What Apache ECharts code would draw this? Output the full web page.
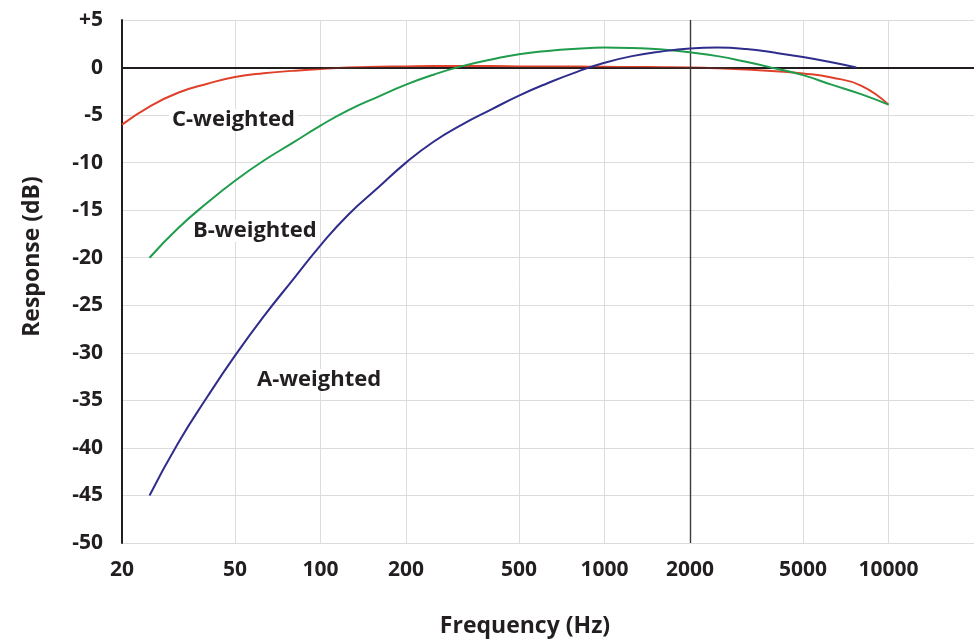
<!DOCTYPE html>
<html>
<head>
<meta charset="utf-8">
<script src="https://cdn.jsdelivr.net/npm/echarts@6/dist/echarts.min.js"></script>
<style>html,body{margin:0;padding:0;background:#fff}#c{width:974px;height:644px}</style>
</head>
<body>
<div id="c"></div>
<script>
// ---- data ----
var xTicks = [20, 50, 100, 200, 500, 1000, 2000, 5000, 10000];

var freqC = [20, 25, 31.5, 40, 50, 63, 80, 100, 125, 160, 200, 250, 315, 400, 500, 630, 800, 1000, 1250, 1600, 2000, 2500, 3150, 4000, 5000, 6300, 8000, 10000];
var cWeighted = [-6.0, -4.1, -2.65, -1.7, -1.0, -0.6, -0.35, -0.15, 0, 0.08, 0.12, 0.15, 0.15, 0.15, 0.12, 0.1, 0.1, 0.08, 0.06, 0.04, 0, -0.08, -0.2, -0.38, -0.62, -1.05, -1.9, -3.9];

var freqB = [25, 31.5, 40, 50, 63, 80, 100, 125, 160, 200, 250, 315, 400, 500, 630, 800, 1000, 1250, 1600, 2000, 2500, 3150, 4000, 5000, 6300, 8000, 10000];
var bWeighted = [-20, -16.9, -14.2, -11.9, -9.8, -7.9, -6.1, -4.5, -3.05, -1.8, -0.75, 0.15, 0.85, 1.4, 1.75, 1.98, 2.1, 2.05, 1.9, 1.6, 1.2, 0.6, -0.1, -0.8, -1.8, -2.8, -3.9];

var freqA = [25, 31.5, 40, 50, 63, 80, 100, 125, 160, 200, 250, 315, 400, 500, 630, 800, 1000, 1250, 1600, 2000, 2500, 3150, 4000, 5000, 6300, 7700];
var aWeighted = [-45, -39.5, -34.6, -30.3, -26.2, -22.3, -18.7, -15.5, -12.6, -10.0, -7.8, -6.0, -4.4, -2.95, -1.65, -0.45, 0.5, 1.2, 1.7, 2.0, 2.1, 1.95, 1.55, 1.1, 0.55, 0];

var seriesNames = ['C-weighted', 'B-weighted', 'A-weighted'];

function zip(xs, ys) { return xs.map(function (x, i) { return [x, ys[i]]; }); }

var FONT = '"Open Sans", "Noto Sans", sans-serif';
var TXT = '#231f20';

function label(text, x, y) {
  return {
    type: 'text', x: x, y: y, z: 1,
    style: {
      text: text, fontFamily: FONT, fontSize: 22, fontWeight: 'bold', fill: TXT,
      verticalAlign: 'middle', backgroundColor: '#ffffff', padding: [0, 3]
    }
  };
}

var chart = echarts.init(document.getElementById('c'), null, { renderer: 'canvas' });
chart.setOption({
  animation: false,
  backgroundColor: '#ffffff',
  grid: { left: 122, right: 0, top: 20, bottom: 101, containLabel: false, outerBoundsMode: 'none' },
  xAxis: {
    type: 'log', logBase: 10, min: 20, max: 20000,
    name: 'Frequency (Hz)', nameLocation: 'middle', nameGap: 72,
    nameTextStyle: { fontFamily: FONT, fontSize: 23, fontWeight: 'bold', color: TXT, padding: [0, 46, 0, 0] },
    axisLine: { show: true, lineStyle: { color: TXT, width: 2 } },
    axisTick: { show: false, customValues: xTicks },
    axisLabel: {
      customValues: xTicks, margin: 17, fontFamily: FONT, fontSize: 21, fontWeight: 'bold', color: TXT,
      formatter: function (v) { return String(v); }
    },
    splitLine: { show: true, lineStyle: { color: '#dcdcdc', width: 1 } },
    minorSplitLine: { show: false }
  },
  yAxis: {
    type: 'value', min: -50, max: 5, interval: 5,
    name: 'Response (dB)', nameLocation: 'middle', nameGap: 78, nameRotate: 90,
    nameTextStyle: { fontFamily: FONT, fontSize: 23, fontWeight: 'bold', color: TXT, padding: [0, 0, 0, 50] },
    axisLine: { show: true, onZero: false, lineStyle: { color: TXT, width: 2 } },
    axisTick: { show: false },
    axisLabel: {
      margin: 19, fontFamily: FONT, fontSize: 21, fontWeight: 'bold', color: TXT,
      formatter: function (v) { return v > 0 ? '+' + v : String(v); }
    },
    splitLine: { show: true, lineStyle: { color: '#dcdcdc', width: 1 } }
  },
  series: [
    {
      name: seriesNames[0], type: 'line', smooth: 0.5, showSymbol: false, symbol: 'none',
      lineStyle: { color: '#e0402a', width: 2 }, z: 4,
      data: zip(freqC, cWeighted),
      markLine: {
        silent: true, symbol: 'none', label: { show: false },
        data: [
          { yAxis: 0, lineStyle: { color: '#231f20', width: 1.6, type: 'solid' } },
          { xAxis: 2000, lineStyle: { color: '#3a3a3a', width: 1.4, type: 'solid' } }
        ]
      }
    },
    {
      name: seriesNames[1], type: 'line', smooth: 0.5, showSymbol: false, symbol: 'none',
      lineStyle: { color: '#1f9c4c', width: 2 }, z: 5,
      data: zip(freqB, bWeighted)
    },
    {
      name: seriesNames[2], type: 'line', smooth: 0.5, showSymbol: false, symbol: 'none',
      lineStyle: { color: '#2f2c8c', width: 2 }, z: 6,
      data: zip(freqA, aWeighted)
    }
  ],
  graphic: [
    label(seriesNames[0], 169, 120),
    label(seriesNames[1], 190, 231),
    label(seriesNames[2], 254, 380)
  ]
});
</script>
</body>
</html>
